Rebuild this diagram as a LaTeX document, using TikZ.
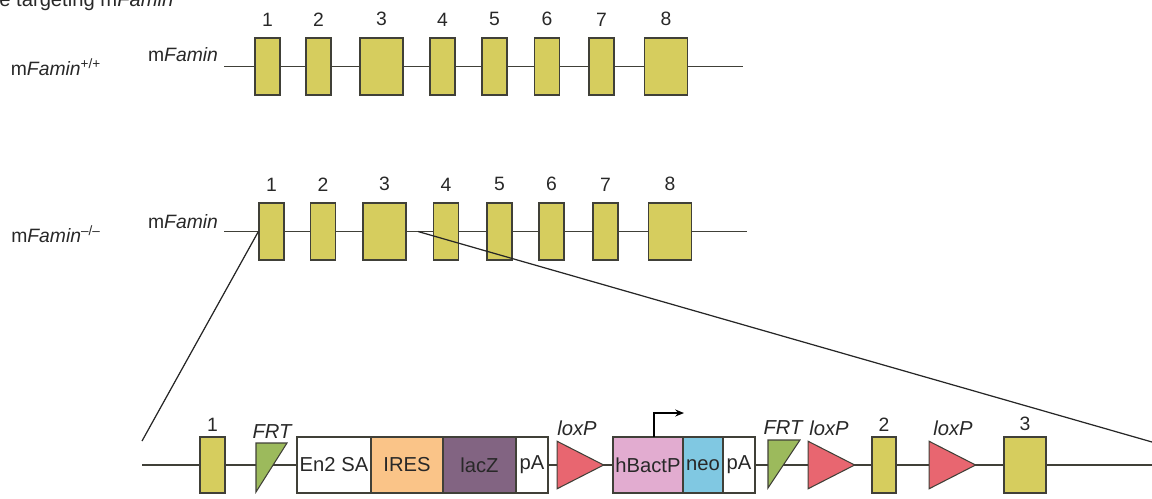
\documentclass[tikz,border=0pt]{standalone}
\usepackage{fontspec}
\setmainfont{Liberation Sans}
\usepackage{tikz}
\usetikzlibrary{shapes.geometric, arrows.meta, positioning, backgrounds}
\definecolor{ExonYellow}{RGB}{214,205,94}
\definecolor{EdgeGray}{RGB}{64,64,56}
\definecolor{TextGray}{RGB}{40,40,40}
\definecolor{FrtGreen}{RGB}{156,186,92}
\definecolor{LoxRed}{RGB}{232,102,112}
\definecolor{IresOrange}{RGB}{250,196,136}
\definecolor{LacPurple}{RGB}{130,100,130}
\definecolor{BactPink}{RGB}{226,172,208}
\definecolor{NeoBlue}{RGB}{128,200,226}

\begin{document}
\begin{tikzpicture}[
    x=0.02cm, y=-0.02cm,
    every node/.style={text=TextGray},
    exon/.style={rectangle, draw=EdgeGray, fill=ExonYellow, line width=0.7pt,
                 inner sep=0pt, minimum width=0.5cm, minimum height=1.14cm},
    wide/.style={minimum width=0.86cm},
    num/.style={font=\fontsize{11}{13}\selectfont, inner sep=0pt, label distance=0.22cm},
    lownum/.style={num, label distance=0.1cm},
    cas/.style={rectangle, draw=EdgeGray, fill=white, line width=0.7pt, inner sep=1pt,
                outer sep=0pt, minimum height=1.12cm, font=\fontsize{11.5}{13}\selectfont},
    loxp/.style={isosceles triangle, isosceles triangle stretches, draw=EdgeGray,
                 fill=LoxRed, line width=0.6pt, inner sep=0pt,
                 minimum width=0.95cm, minimum height=0.93cm},
    frt/.style={draw=EdgeGray, fill=FrtGreen, line width=0.6pt},
    tag/.style={font=\fontsize{11.5}{13}\selectfont\itshape, inner sep=0pt},
    rowname/.style={font=\fontsize{11}{13}\selectfont, inner sep=0pt},
    gene/.style={draw=EdgeGray, line width=0.7pt},
    zoomline/.style={draw=black!85, line width=0.7pt},
    tss/.style={-{Stealth[length=5pt, width=4pt]}, draw=black, line width=0.7pt}
]
\useasboundingbox (0,0) rectangle (1152,498);

% Title (cut at the top)
\node[rowname, font=\fontsize{11.5}{13}\selectfont, anchor=base west] (title) at (-1,6)
    {e targeting m\textit{Famin}\textsuperscript{+/--}};

% Wild type allele
\node[rowname] (wtname) at (56,67) {m\textit{Famin}\textsuperscript{+/+}};
\node[rowname] (wtgene) at (183,55) {m\textit{Famin}};
\coordinate (a0) at (224,66.5);
\coordinate (a9) at (743,66.5);
\node[exon, label={[num]above:1}] (a1) at (267.5,66.5) {};
\node[exon, label={[num]above:2}] (a2) at (318.5,66.5) {};
\node[exon, wide, label={[num]above:3}] (a3) at (381.5,66.5) {};
\node[exon, label={[num]above:4}] (a4) at (442.5,66.5) {};
\node[exon, label={[num]above:5}] (a5) at (494.5,66.5) {};
\node[exon, label={[num]above:6}] (a6) at (547,66.5) {};
\node[exon, label={[num]above:7}] (a7) at (601.5,66.5) {};
\node[exon, wide, label={[num]above:8}] (a8) at (666,66.5) {};

% Knockout allele
\node[rowname] (koname) at (56,234) {m\textit{Famin}\textsuperscript{--/--}};
\node[rowname] (kogene) at (183,222) {m\textit{Famin}};
\coordinate (b0) at (224,231.5);
\coordinate (b9) at (747,231.5);
\node[exon, label={[num]above:1}] (b1) at (271.5,231.5) {};
\node[exon, label={[num]above:2}] (b2) at (323,231.5) {};
\node[exon, wide, label={[num]above:3}] (b3) at (384.5,231.5) {};
\node[exon, label={[num]above:4}] (b4) at (446,231.5) {};
\node[exon, label={[num]above:5}] (b5) at (499.5,231.5) {};
\node[exon, label={[num]above:6}] (b6) at (551.5,231.5) {};
\node[exon, label={[num]above:7}] (b7) at (605.5,231.5) {};
\node[exon, wide, label={[num]above:8}] (b8) at (670,231.5) {};
\coordinate (cut) at (418,231.5);

% Targeted region
\coordinate (c0) at (142,465);
\coordinate (c9) at (1152,465);
\node[exon, minimum height=1.12cm, label={[lownum]above:1}] (c1) at (212.5,465) {};
\draw[frt] (256,443) -- (287,443) -- (256,492) -- cycle;
\node[tag] (frt1) at (272,432) {FRT};
\node[cas, minimum width=1.48cm, anchor=west] (en2) at (297,465) {En2 SA};
\node[cas, fill=IresOrange, minimum width=1.44cm, right=0pt of en2] (ires) {IRES};
\node[cas, fill=LacPurple, minimum width=1.46cm, right=0pt of ires] (lacz) {lacZ};
\node[cas, minimum width=0.64cm, right=0pt of lacz] (pa1) {pA};
\node[loxp, anchor=apex] (lox1) at (605,465) {};
\node[tag] (lox1lab) at (577,428) {loxP};
\node[cas, fill=BactPink, minimum width=1.40cm, anchor=west] (hbact) at (613,465) {hBactP};
\node[cas, fill=NeoBlue, minimum width=0.80cm, right=0pt of hbact] (neo) {neo};
\node[cas, minimum width=0.64cm, right=0pt of neo] (pa2) {pA};
\draw[frt] (768,440) -- (800,440) -- (768,488) -- cycle;
\node[tag] (frt2) at (783,428) {FRT};
\node[loxp, anchor=apex] (lox2) at (856,465) {};
\node[tag] (lox2lab) at (829,428) {loxP};
\node[exon, minimum width=0.48cm, minimum height=1.12cm, label={[lownum]above:2}] (c2) at (884,465) {};
\node[loxp, anchor=apex] (lox3) at (977,465) {};
\node[tag] (lox3lab) at (953,428) {loxP};
\node[exon, minimum width=0.84cm, minimum height=1.12cm, label={[lownum]above:3}] (c3) at (1025,465) {};
\coordinate (zl) at (142,441);
\coordinate (zr) at (1152,442);

% Promoter arrow
\draw[tss] ([xshift=0.12cm]hbact.north) -- ++(0,-24) -- ++(30,0);

% Gene lines
\begin{scope}[on background layer]
\draw[gene] (a0) -- (a9);
\draw[gene] (b0) -- (b9);
\draw[gene] (c0) -- (c9);
\end{scope}

% Zoom lines
\draw[zoomline] (b1.west) -- (zl);
\draw[zoomline] (cut) -- (zr);

\end{tikzpicture}
\end{document}
